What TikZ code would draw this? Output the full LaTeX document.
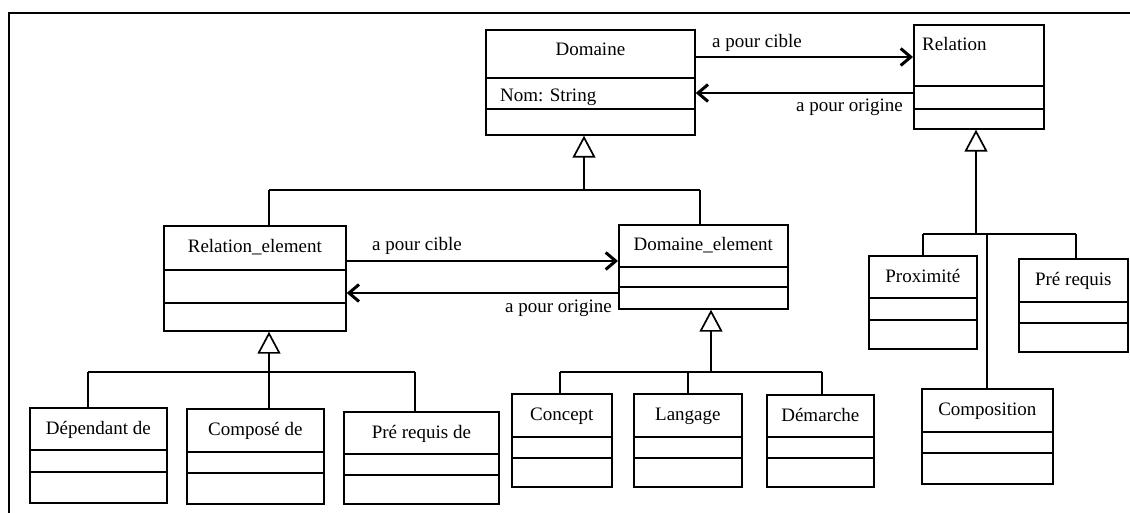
\documentclass[tikz,border=0pt]{standalone}
\usepackage{fontspec}
\setmainfont{Liberation Serif}
\usetikzlibrary{arrows.meta}
\tikzset{
  every node/.style={font=\fontsize{19}{22}\selectfont},
  cls/.style={draw, line width=1.7pt, anchor=north west, inner sep=0pt, fill=white},
  ttl/.style={anchor=base, inner sep=0pt},
  lbl/.style={inner sep=0pt},
  div/.style={line width=1.7pt},
  conn/.style={line width=1.7pt},
  gen/.style={line width=1.7pt, -{Triangle[length=22pt,width=23pt,fill=white,line width=1.7pt]}},
  assoc/.style={line width=1.7pt, -{Straight Barb[length=10pt,width=17pt,line width=3pt]}},
  frame/.style={line width=2pt}
}
\newcommand{\umlclass}[8]{%
  \node[cls, minimum width=#4pt, minimum height=#5pt] (#1) at (#2,#3) {};
  \node[ttl] (#1-t) at ([yshift=-27pt]#1.north) {#8};
  \draw[div] ([yshift=-#6pt]#1.north west) -- ([yshift=-#6pt]#1.north east);
  \draw[div] ([yshift=-#7pt]#1.north west) -- ([yshift=-#7pt]#1.north east);
}
\begin{document}
\begin{tikzpicture}[x=1pt,y=-1pt]
\useasboundingbox (0,0) rectangle (1130,513);
\draw[frame] (9,513) -- (9,13) -- (1130,13);

% classes
\umlclass{dom}{485}{29}{209}{105}{49}{80}{Domaine}
\node[anchor=base west, inner sep=0pt] (domA) at (500,102) {Nom: String};

\node[cls, minimum width=130pt, minimum height=104pt] (rel) at (913,24) {};
\node[anchor=base west, inner sep=0pt] (rel-t) at (922,51) {Relation};
\draw[div] ([yshift=-62pt]rel.north west) -- ([yshift=-62pt]rel.north east);
\draw[div] ([yshift=-85pt]rel.north west) -- ([yshift=-85pt]rel.north east);

\umlclass{relel}{163}{225}{182}{105}{45}{78}{Relation\_element}
\umlclass{domel}{618}{224}{169}{84}{43}{63}{Domaine\_element}
\umlclass{dep}{29}{407}{137}{95}{43}{65}{Dépendant de}
\umlclass{comp}{186}{408}{137}{95}{44}{65}{Composé de}
\umlclass{prq}{343}{411}{155}{92}{43}{64}{Pré requis de}
\umlclass{concept}{511}{393}{100}{93}{44}{65}{Concept}
\umlclass{lang}{633}{393}{108}{93}{44}{65}{Langage}
\umlclass{dem}{766}{394}{107}{92}{43}{64}{Démarche}
\umlclass{prox}{868}{255}{108}{93}{43}{65}{Proximité}
\umlclass{prer}{1018}{258}{109}{93}{44}{65}{Pré requis}
\umlclass{compo}{921}{388}{131}{95}{44}{65}{Composition}

% associations
\coordinate (a1) at (694,57);
\coordinate (a2) at (913,93);
\draw[assoc] (a1) -- (rel.west |- a1);
\draw[assoc] (a2) -- (dom.east |- a2);
\node[lbl, anchor=base west] (l1) at (712,48) {a pour cible};
\node[lbl, anchor=base east] (l2) at (903,112) {a pour origine};

\coordinate (a3) at (345,261);
\coordinate (a4) at (618,293);
\draw[assoc] (a3) -- (domel.west |- a3);
\draw[assoc] (a4) -- (relel.east |- a4);
\node[lbl, anchor=base west] (l3) at (372,251) {a pour cible};
\node[lbl, anchor=base east] (l4) at (612,312) {a pour origine};

% generalization: Domaine
\coordinate (j1) at (584,190);
\coordinate (j1l) at (269,190);
\coordinate (j1r) at (700,190);
\draw[conn] (j1l) -- (j1r);
\draw[conn] (j1l) -- (relel.north -| j1l);
\draw[conn] (j1r) -- (domel.north -| j1r);
\draw[gen] (j1) -- (dom.south -| j1);

% generalization: Relation_element
\coordinate (j2) at (269,372);
\coordinate (j2l) at (88,372);
\coordinate (j2r) at (415,372);
\draw[conn] (j2l) -- (j2r);
\draw[conn] (j2l) -- (dep.north -| j2l);
\draw[conn] (j2) -- (comp.north -| j2);
\draw[conn] (j2r) -- (prq.north -| j2r);
\draw[gen] (j2) -- (relel.south -| j2);

% generalization: Domaine_element
\coordinate (j3) at (711,372);
\coordinate (j3l) at (560,372);
\coordinate (j3m) at (688,372);
\coordinate (j3r) at (822,372);
\draw[conn] (j3l) -- (j3r);
\draw[conn] (j3l) -- (concept.north -| j3l);
\draw[conn] (j3m) -- (lang.north -| j3m);
\draw[conn] (j3r) -- (dem.north -| j3r);
\draw[gen] (j3) -- (domel.south -| j3);

% generalization: Relation
\coordinate (j4) at (976,234);
\coordinate (j4l) at (923,234);
\coordinate (j4m) at (987,234);
\coordinate (j4r) at (1076,234);
\draw[conn] (j4l) -- (j4r);
\draw[conn] (j4l) -- (prox.north -| j4l);
\draw[conn] (j4m) -- (compo.north -| j4m);
\draw[conn] (j4r) -- (prer.north -| j4r);
\draw[gen] (j4) -- (rel.south -| j4);
\end{tikzpicture}
\end{document}
